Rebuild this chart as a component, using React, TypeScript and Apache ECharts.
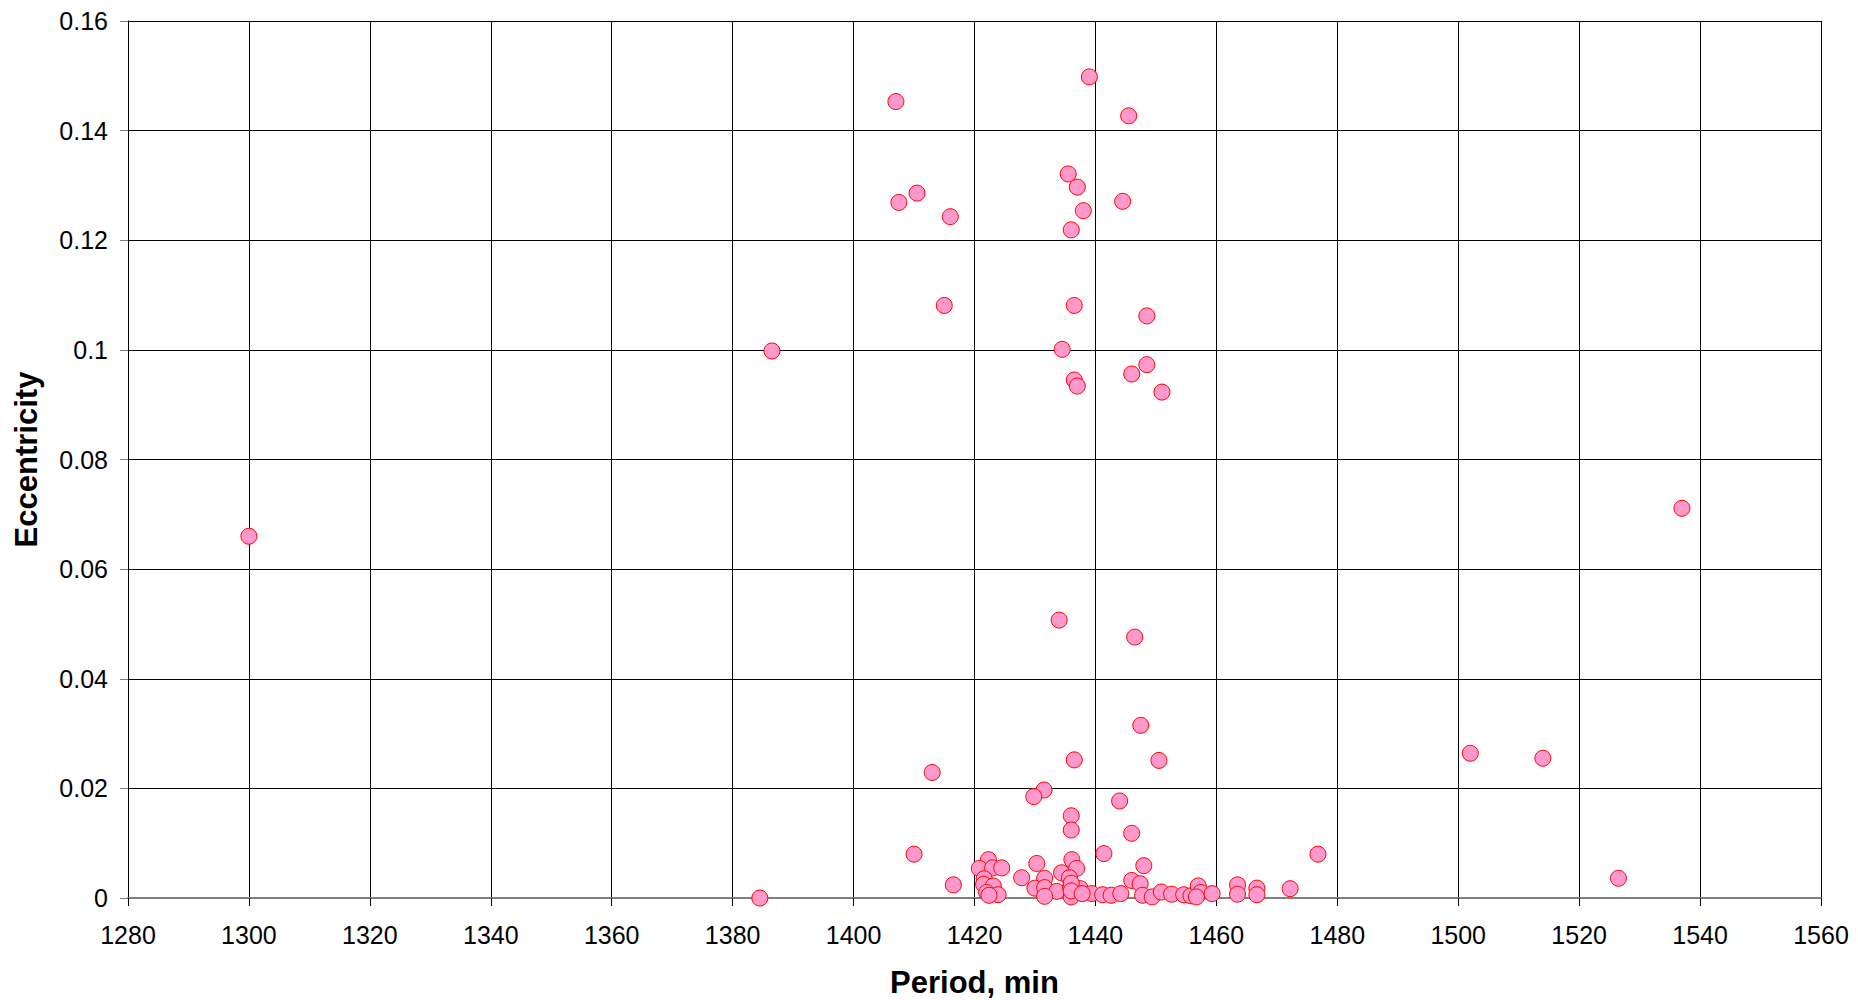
import React, { useEffect, useRef } from "react";
import * as echarts from "echarts";

const periods: number[] = [
  1300, 1384.5, 1386.5, 1407, 1407.5, 1410.5, 1416, 1415, 1413, 1410, 1416.5,
  1439, 1445.5, 1435.5, 1437, 1438, 1444.5, 1436, 1436.5, 1448.5, 1434.5,
  1448.5, 1446, 1436.5, 1437, 1451, 1537, 1434, 1446.5, 1447.5, 1436.5,
  1450.5, 1502, 1514, 1526.5, 1476.8, 1472.2,
  1431.5, 1429.8, 1444, 1436, 1436, 1446, 1441.4, 1430.3, 1422.3, 1436.1,
  1448, 1420.8, 1423, 1424.5, 1436.9, 1434.4, 1427.8, 1431.6, 1435.7, 1446,
  1447.4, 1421.6, 1421.5, 1423.1, 1430, 1431.6, 1433.6, 1435.9, 1437.5,
  1423.9, 1422, 1431.6, 1436, 1439.4, 1441.2, 1442.6, 1444.2, 1447.8, 1449.4,
  1450.9, 1452.6, 1454.6, 1455.8, 1457, 1457.4, 1456.7, 1459.3, 1463.5,
  1463.5, 1466.7, 1466.7, 1436, 1436, 1422.4, 1437.8,
];

const eccentricities: number[] = [
  0.066, 0.0, 0.0998, 0.1453, 0.1269, 0.1286, 0.1243, 0.1081, 0.0229, 0.008, 0.0024,
  0.1498, 0.1427, 0.1321, 0.1297, 0.1254, 0.1271, 0.1219, 0.1081, 0.1062, 0.1001,
  0.0973, 0.0956, 0.0945, 0.0934, 0.0923, 0.0711, 0.0507, 0.0476, 0.0315, 0.0252,
  0.0251, 0.0264, 0.0255, 0.0036, 0.008, 0.0017,
  0.0197, 0.0185, 0.0177, 0.015, 0.0124, 0.0118, 0.0081, 0.0063, 0.007, 0.007,
  0.0059, 0.0054, 0.0055, 0.0055, 0.0054, 0.0046, 0.0037, 0.0036, 0.0037, 0.0032,
  0.0026, 0.0035, 0.0025, 0.0022, 0.0018, 0.0019, 0.0012, 0.002, 0.0017,
  0.0006, 0.001, 0.0003, 0.0002, 0.0008, 0.0006, 0.0005, 0.0008, 0.0005, 0.0002,
  0.0011, 0.0007, 0.0006, 0.0004, 0.0022, 0.001, 0.0002, 0.0008, 0.0024,
  0.0007, 0.0018, 0.0006, 0.0027, 0.0013, 0.0005, 0.0008,
];

const xAxisTitle = "Period, min";
const yAxisTitle = "Eccentricity";

export default function App() {
  const ref = useRef<HTMLDivElement>(null);
  useEffect(() => {
    if (!ref.current) return;
    const chart = echarts.init(ref.current, null, { renderer: "svg" });
    const data = periods.map((p, i) => [p, eccentricities[i]]);
    const font = "'Liberation Sans', Arial, sans-serif";
    chart.setOption({
      animation: false,
      backgroundColor: "#ffffff",
      grid: {
        left: 128,
        top: 21,
        width: 1693,
        height: 877,
        containLabel: false,
        outerBoundsMode: "none",
      },
      xAxis: {
        type: "value",
        min: 1280,
        max: 1560,
        interval: 20,
        name: xAxisTitle,
        nameLocation: "middle",
        nameGap: 69,
        nameTextStyle: {
          fontFamily: font,
          fontSize: 31,
          lineHeight: 30,
          fontWeight: "bold",
          color: "#000",
        },
        axisLine: { show: true, onZero: false, lineStyle: { color: "#808080", width: 2 } },
        axisTick: { show: true, length: 8, lineStyle: { color: "#000" } },
        axisLabel: {
          fontFamily: font,
          fontSize: 25,
          color: "#000",
          margin: 24,
          formatter: (v: number) => String(v),
        },
        splitLine: { show: true, lineStyle: { color: "#000", width: 1 } },
      },
      yAxis: {
        type: "value",
        min: 0,
        max: 0.16,
        interval: 0.02,
        name: yAxisTitle,
        nameLocation: "middle",
        nameGap: 86,
        nameRotate: 90,
        nameTextStyle: { fontFamily: font, fontSize: 31, fontWeight: "bold", color: "#000" },
        axisLine: { show: true, onZero: false, lineStyle: { color: "#000", width: 1 } },
        axisTick: { show: true, length: 8, lineStyle: { color: "#808080" } },
        axisLabel: { fontFamily: font, fontSize: 25, color: "#000", margin: 20 },
        splitLine: { show: true, lineStyle: { color: "#000", width: 1 } },
      },
      series: [
        {
          type: "scatter",
          data,
          symbol: "circle",
          symbolSize: 16,
          itemStyle: { color: "#FF99CC", borderColor: "#FF0000", borderWidth: 1, opacity: 1 },
        },
      ],
    });
    return () => chart.dispose();
  }, []);
  return (
    <div
      ref={ref}
      style={{ position: "fixed", left: 0, top: 0, width: 1858, height: 1000 }}
    />
  );
}
